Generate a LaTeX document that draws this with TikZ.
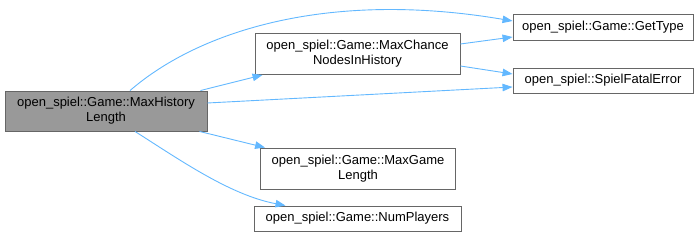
\documentclass[tikz,border=0pt]{standalone}
\usepackage{fontspec}
\setmainfont{Liberation Sans}
\usetikzlibrary{arrows.meta}
\definecolor{edgeblue}{HTML}{63B8FF}
\definecolor{boxline}{HTML}{666666}
\definecolor{mainfill}{HTML}{999999}
\begin{document}
\begin{tikzpicture}[x=1pt,y=-1pt,
  fn/.style={draw=boxline, line width=0.9pt, fill=white, inner sep=0pt,
    align=center, font=\fontsize{13}{15}\selectfont, text=black},
  mainfn/.style={fn, fill=mainfill},
  call/.style={draw=edgeblue, line width=0.9pt,
    -{Triangle[length=10pt,width=7.5pt]}}]
\useasboundingbox (0,0) rectangle (698,245);

\node[mainfn, minimum width=202pt, minimum height=40pt] (main) at (106,111)
  {open\_spiel::Game::MaxHistory\\Length};
\node[fn, minimum width=205pt, minimum height=41pt] (chance) at (357.5,54)
  {open\_spiel::Game::MaxChance\\NodesInHistory};
\node[fn, minimum width=180pt, minimum height=26pt] (type) at (603,27)
  {open\_spiel::Game::GetType};
\node[fn, minimum width=180pt, minimum height=25pt] (fatal) at (603,80.5)
  {open\_spiel::SpielFatalError};
\node[fn, minimum width=195pt, minimum height=41pt] (maxgame) at (358,168.5)
  {open\_spiel::Game::MaxGame\\Length};
\node[fn, minimum width=207pt, minimum height=25pt] (players) at (357.5,218.5)
  {open\_spiel::Game::NumPlayers};

% calls from MaxHistoryLength
\draw[call] ([xshift=24pt]main.north) .. controls (200,30) and (330,-10) .. ([yshift=6pt]type.west);
\draw[call] ([xshift=-7pt]main.north east) -- ([xshift=8pt]chance.south west);
\draw[call] ([yshift=8pt]main.east) -- ([yshift=-6.5pt]fatal.west);
\draw[call] ([xshift=-8pt]main.south east) -- ([xshift=5pt]maxgame.north west);
\draw[call] ([xshift=29pt]main.south) .. controls (180,160) and (230,195) .. ([xshift=-72pt]players.north);

% calls from MaxChanceNodesInHistory
\draw[call] ([yshift=10pt]chance.east) -- ([yshift=-10pt]type.west);
\draw[call] ([yshift=-12pt]chance.east) -- ([yshift=6.5pt]fatal.west);
\end{tikzpicture}
\end{document}
